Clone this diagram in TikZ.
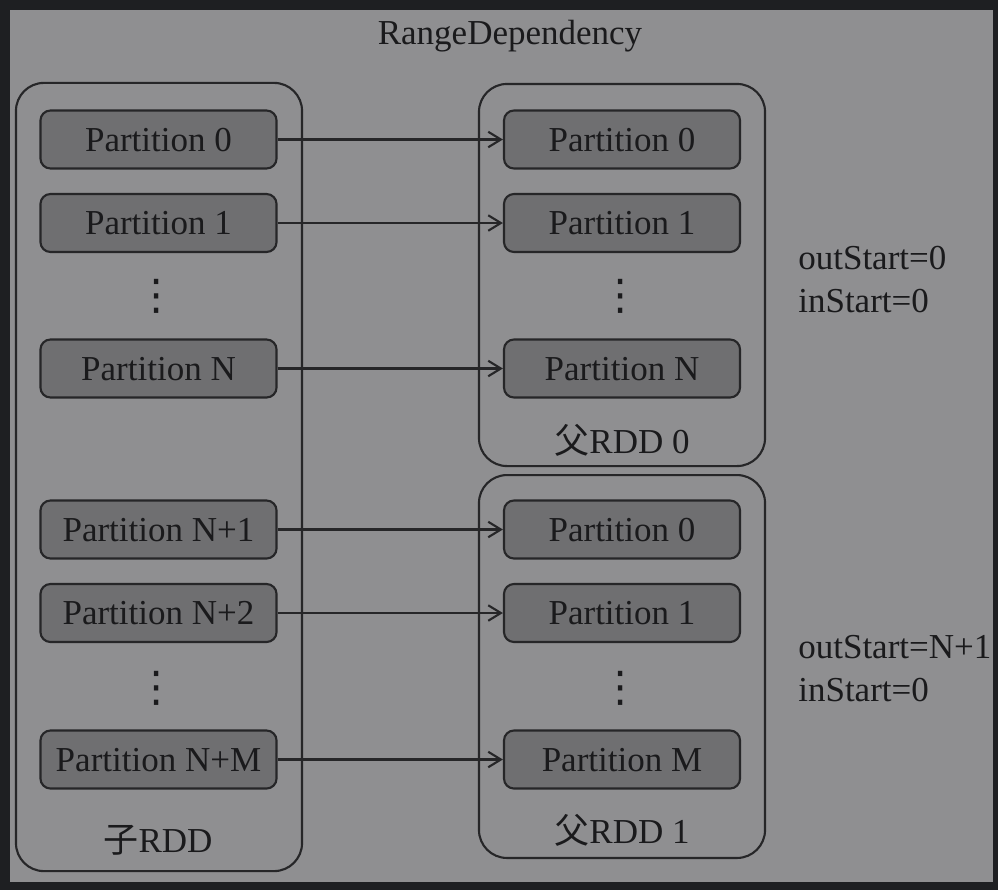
\documentclass[tikz,border=0pt]{standalone}
\usepackage{fontspec}
\setmainfont{Liberation Serif}
\newfontfamily\cjk{Noto Sans CJK SC}
\newfontfamily\dotsfont{DejaVu Sans}
\usepackage{xcolor}
\usetikzlibrary{arrows.meta, positioning}
\definecolor{frameblack}{HTML}{1E1F22}
\definecolor{bggray}{HTML}{8F8F91}
\definecolor{partgray}{HTML}{6F6F71}
\definecolor{linegray}{HTML}{262628}
\definecolor{textgray}{HTML}{1A1A1C}
\tikzset{
  >={Straight Barb[length=9pt,width=11pt]},
  % Partizioni
  part/.style={draw=linegray,line width=1.5pt,fill=partgray,rounded corners=0.25cm,
    minimum width=5.9cm,minimum height=1.45cm,inner sep=0pt,text=textgray,
    text height=16.5pt,text depth=0pt,font=\fontsize{24.9}{30}\selectfont},
  % Contenitori RDD
  rdd/.style={draw=linegray,line width=1.5pt,rounded corners=0.7cm,minimum width=7.15cm,inner sep=0pt},
  txt/.style={text=textgray,inner sep=0pt,font=\fontsize{24.9}{30}\selectfont},
  vdotstxt/.style={text=textgray,inner sep=0pt,font=\dotsfont\fontsize{30}{30}\selectfont},
  % Dipendenze
  dep/.style={->,line width=1.5pt,draw=linegray}
}

\begin{document}
\begin{tikzpicture}[x=0.025cm,y=-0.025cm]
        \fill[frameblack] (0,0) rectangle (998,890);
        \fill[bggray] (10,10) rectangle (993,882);
        \node[txt] (title) at (510,36) {RangeDependency};
        % Child RDD
        \node[rdd,minimum height=19.7cm] (child) at (159,477) {};
        \node[txt] (childlbl) at (158,840) {{\cjk 子}RDD};
        \node[part] (c0) at (158.5,139.5) {Partition 0};
        \node[part] (c1) at (158.5,223) {Partition 1};
        \node[vdotstxt] (cdots0) at (157,296) {⋮};
        \node[part] (cN) at (158.5,368.5) {Partition N};
        \node[part] (cN1) at (158.5,529.5) {Partition N+1};
        \node[part] (cN2) at (158.5,613) {Partition N+2};
        \node[vdotstxt] (cdots1) at (157,688) {⋮};
        \node[part] (cNM) at (158.5,759.5) {Partition N+M};
        % Parent RDD 0
        \node[rdd,minimum height=9.55cm] (par0) at (622,275) {};
        \node[txt] (par0lbl) at (622,440) {{\cjk 父}RDD 0};
        \node[part] (p00) at (622,139.5) {Partition 0};
        \node[part] (p01) at (622,223) {Partition 1};
        \node[vdotstxt] (pdots0) at (621,296) {⋮};
        \node[part] (p0N) at (622,368.5) {Partition N};
        % Parent RDD 1
        \node[rdd,minimum height=9.57cm] (par1) at (622,666.5) {};
        \node[txt] (par1lbl) at (622,830) {{\cjk 父}RDD 1};
        \node[part] (p10) at (622,529.5) {Partition 0};
        \node[part] (p11) at (622,613) {Partition 1};
        \node[vdotstxt] (pdots1) at (621,688) {⋮};
        \node[part] (p1M) at (622,759.5) {Partition M};
        % Ranges
        \node[txt,anchor=west] (out0) at (798,258) {outStart=0};
        \node[txt,anchor=west] (in0) at (798,301) {inStart=0};
        \node[txt,anchor=west] (out1) at (798,647) {outStart=N+1};
        \node[txt,anchor=west] (in1) at (798,690) {inStart=0};
        % Dependencies
        \draw[dep] (c0) -- (p00);
        \draw[dep] (c1) -- (p01);
        \draw[dep] (cN) -- (p0N);
        \draw[dep] (cN1) -- (p10);
        \draw[dep] (cN2) -- (p11);
        \draw[dep] (cNM) -- (p1M);
      \end{tikzpicture}
\end{document}
